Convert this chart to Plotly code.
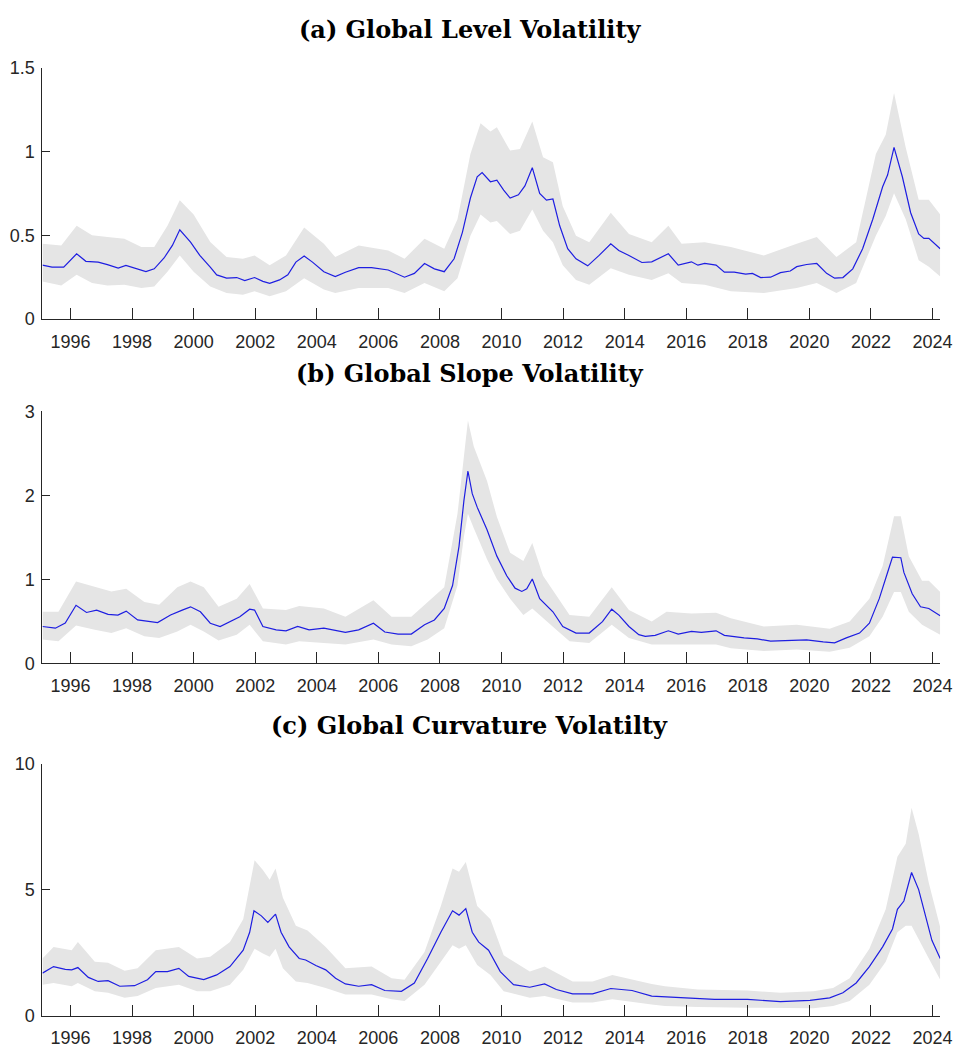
import plotly.graph_objects as go

# ---------------- Panel (a): Global Level Volatility ----------------
A_DATES = [1995.09, 1995.4, 1995.78, 1996.2, 1996.5, 1996.9, 1997.2, 1997.55, 1997.8, 1998.08,
           1998.45, 1998.72, 1999.04, 1999.31, 1999.55, 1999.9, 2000.2, 2000.54, 2000.75, 2001.07,
           2001.4, 2001.66, 2001.98, 2002.25, 2002.47, 2002.79, 2003.06, 2003.32, 2003.59, 2003.86,
           2004.23, 2004.6, 2004.93, 2005.36, 2005.78, 2006.32, 2006.85, 2007.17, 2007.5, 2007.82,
           2008.14, 2008.46, 2008.73, 2008.99, 2009.21, 2009.37, 2009.64, 2009.85, 2010.07, 2010.28,
           2010.55, 2010.76, 2011.0, 2011.24, 2011.46, 2011.67, 2011.89, 2012.15, 2012.42, 2012.8,
           2013.17, 2013.55, 2013.81, 2014.14, 2014.56, 2014.88, 2015.1, 2015.42, 2015.74, 2016.17,
           2016.38, 2016.6, 2016.97, 2017.24, 2017.56, 2017.93, 2018.15, 2018.42, 2018.74, 2019.06,
           2019.38, 2019.59, 2019.91, 2020.24, 2020.56, 2020.82, 2021.09, 2021.41, 2021.73, 2022.06,
           2022.38, 2022.54, 2022.75, 2023.02, 2023.29, 2023.55, 2023.72, 2023.88, 2024.25]
A_MED = [0.322, 0.31, 0.31, 0.39, 0.345, 0.34, 0.325, 0.305, 0.32, 0.305,
         0.283, 0.30, 0.365, 0.44, 0.533, 0.46, 0.38, 0.31, 0.264, 0.245,
         0.248, 0.23, 0.248, 0.225, 0.213, 0.234, 0.264, 0.34, 0.377, 0.34,
         0.283, 0.254, 0.28, 0.307, 0.307, 0.293, 0.25, 0.273, 0.332, 0.30,
         0.283, 0.36, 0.518, 0.723, 0.85, 0.875, 0.82, 0.83, 0.77, 0.723,
         0.742, 0.795, 0.904, 0.75, 0.71, 0.717, 0.557, 0.42, 0.36, 0.318,
         0.38, 0.45, 0.41, 0.38, 0.338, 0.342, 0.36, 0.39, 0.322, 0.342,
         0.322, 0.332, 0.322, 0.28, 0.28, 0.268, 0.273, 0.248, 0.25, 0.277,
         0.287, 0.313, 0.326, 0.332, 0.273, 0.244, 0.248, 0.30, 0.42, 0.596,
         0.79, 0.86, 1.025, 0.85, 0.635, 0.508, 0.482, 0.482, 0.42]
BA_DATES = [1995.09, 1995.7, 1996.2, 1996.7, 1997.2, 1997.75, 1998.3, 1998.72, 1999.15, 1999.55,
            2000.0, 2000.54, 2001.07, 2001.6, 2001.98, 2002.47, 2003.0, 2003.59, 2004.23, 2004.6,
            2005.36, 2006.32, 2006.85, 2007.5, 2008.14, 2008.57, 2008.99, 2009.32, 2009.64, 2009.85,
            2010.28, 2010.6, 2011.0, 2011.35, 2011.67, 2011.99, 2012.42, 2012.85, 2013.55, 2014.14,
            2014.88, 2015.42, 2015.85, 2016.6, 2017.45, 2018.52, 2019.59, 2020.24, 2020.88, 2021.52,
            2022.16, 2022.48, 2022.75, 2023.13, 2023.55, 2023.88, 2024.25]
BA_HI = [0.45, 0.44, 0.557, 0.50, 0.49, 0.48, 0.43, 0.43, 0.557, 0.71,
         0.625, 0.46, 0.37, 0.36, 0.38, 0.322, 0.38, 0.547, 0.45, 0.37,
         0.44, 0.41, 0.36, 0.48, 0.42, 0.596, 0.986, 1.17, 1.12, 1.146,
         1.006, 1.016, 1.18, 0.967, 0.937, 0.674, 0.498, 0.459, 0.635, 0.508,
         0.459, 0.557, 0.45, 0.459, 0.43, 0.38, 0.45, 0.49, 0.37, 0.459,
         0.986, 1.10, 1.35, 1.025, 0.713, 0.713, 0.625]
BA_LO = [0.225, 0.20, 0.264, 0.215, 0.20, 0.205, 0.186, 0.195, 0.283, 0.38,
         0.283, 0.195, 0.156, 0.146, 0.166, 0.137, 0.166, 0.244, 0.176, 0.156,
         0.186, 0.186, 0.156, 0.215, 0.166, 0.244, 0.498, 0.625, 0.576, 0.586,
         0.508, 0.527, 0.654, 0.527, 0.459, 0.322, 0.234, 0.205, 0.303, 0.264,
         0.234, 0.273, 0.215, 0.205, 0.166, 0.156, 0.186, 0.215, 0.156, 0.215,
         0.498, 0.615, 0.752, 0.596, 0.352, 0.313, 0.254]

# ---------------- Panel (b): Global Slope Volatility ----------------
B_DATES = [1995.09, 1995.51, 1995.83, 1996.18, 1996.52, 1996.85, 1997.22, 1997.54, 1997.81, 1998.18,
           1998.83, 1999.25, 1999.63, 1999.9, 2000.22, 2000.54, 2000.86, 2001.18, 2001.5, 2001.82,
           2001.98, 2002.25, 2002.68, 2003.0, 2003.38, 2003.75, 2004.23, 2004.93, 2005.36, 2005.84,
           2006.21, 2006.64, 2007.07, 2007.5, 2007.82, 2008.14, 2008.41, 2008.62, 2008.78, 2008.91,
           2009.05, 2009.21, 2009.53, 2009.85, 2010.17, 2010.44, 2010.66, 2010.82, 2011.0, 2011.24,
           2011.67, 2011.99, 2012.42, 2012.85, 2013.28, 2013.58, 2013.81, 2014.14, 2014.46, 2014.67,
           2014.99, 2015.42, 2015.74, 2016.17, 2016.49, 2016.97, 2017.24, 2017.88, 2018.31, 2018.74,
           2019.38, 2019.91, 2020.45, 2020.82, 2021.2, 2021.63, 2021.95, 2022.27, 2022.54, 2022.7,
           2022.97, 2023.07, 2023.34, 2023.61, 2023.88, 2024.25]
B_MED = [0.44, 0.42, 0.48, 0.693, 0.607, 0.635, 0.584, 0.576, 0.623, 0.518,
         0.487, 0.576, 0.635, 0.674, 0.615, 0.479, 0.44, 0.498, 0.557, 0.646,
         0.635, 0.44, 0.40, 0.389, 0.44, 0.40, 0.42, 0.37, 0.40, 0.479,
         0.374, 0.35, 0.35, 0.46, 0.518, 0.654, 0.927, 1.394, 1.94, 2.29,
         2.02, 1.86, 1.59, 1.277, 1.044, 0.896, 0.857, 0.888, 1.005, 0.771,
         0.615, 0.44, 0.362, 0.362, 0.498, 0.646, 0.576, 0.44, 0.343, 0.323,
         0.335, 0.389, 0.35, 0.382, 0.37, 0.389, 0.335, 0.304, 0.292, 0.265,
         0.276, 0.28, 0.257, 0.245, 0.304, 0.362, 0.479, 0.771, 1.083, 1.266,
         1.258, 1.083, 0.829, 0.674, 0.654, 0.569]
BB_DATES = [1995.09, 1995.61, 1996.18, 1996.79, 1997.33, 1997.81, 1998.4, 1998.88, 1999.47, 1999.9,
            2000.33, 2000.81, 2001.4, 2001.82, 2002.25, 2003.0, 2003.43, 2004.23, 2004.93, 2005.84,
            2006.43, 2007.07, 2007.6, 2008.14, 2008.57, 2008.78, 2008.91, 2009.1, 2009.53, 2009.85,
            2010.28, 2010.71, 2011.0, 2011.35, 2011.78, 2012.21, 2012.85, 2013.58, 2014.14, 2014.88,
            2015.36, 2016.17, 2016.97, 2017.45, 2018.52, 2019.59, 2020.66, 2021.31, 2021.95, 2022.38,
            2022.75, 2022.97, 2023.23, 2023.66, 2023.88, 2024.25]
BB_HI = [0.615, 0.615, 0.974, 0.907, 0.857, 0.888, 0.732, 0.70, 0.907, 0.974,
         0.907, 0.674, 0.771, 0.946, 0.654, 0.635, 0.685, 0.654, 0.557, 0.752,
         0.557, 0.557, 0.732, 0.907, 1.78, 2.45, 2.89, 2.58, 2.17, 1.745,
         1.316, 1.219, 1.433, 1.044, 0.81, 0.576, 0.557, 0.907, 0.635, 0.498,
         0.615, 0.596, 0.604, 0.537, 0.44, 0.46, 0.413, 0.498, 0.771, 1.16,
         1.752, 1.752, 1.277, 0.985, 0.985, 0.849]
BB_LO = [0.284, 0.265, 0.452, 0.40, 0.362, 0.42, 0.323, 0.304, 0.38, 0.46,
         0.38, 0.273, 0.343, 0.46, 0.265, 0.226, 0.265, 0.245, 0.226, 0.284,
         0.226, 0.206, 0.284, 0.42, 0.927, 1.51, 1.78, 1.61, 1.24, 1.005,
         0.771, 0.576, 0.654, 0.537, 0.40, 0.265, 0.245, 0.46, 0.304, 0.226,
         0.234, 0.226, 0.226, 0.18, 0.148, 0.167, 0.14, 0.187, 0.323, 0.557,
         0.849, 0.849, 0.615, 0.46, 0.42, 0.343]

# ---------------- Panel (c): Global Curvature Volatility ----------------
C_DATES = [1995.09, 1995.45, 1995.83, 1996.04, 1996.24, 1996.58, 1996.9, 1997.22, 1997.6, 1998.08,
           1998.5, 1998.77, 1999.15, 1999.52, 1999.84, 2000.33, 2000.75, 2001.18, 2001.61, 2001.82,
           2001.96, 2002.2, 2002.41, 2002.66, 2002.84, 2003.1, 2003.43, 2003.64, 2003.97, 2004.29,
           2004.61, 2004.93, 2005.36, 2005.78, 2006.21, 2006.75, 2007.17, 2007.6, 2008.03, 2008.41,
           2008.62, 2008.84, 2009.05, 2009.26, 2009.58, 2009.96, 2010.39, 2010.92, 2011.4, 2011.78,
           2012.31, 2012.96, 2013.55, 2014.24, 2014.88, 2015.31, 2015.95, 2016.92, 2017.99, 2019.06,
           2020.02, 2020.66, 2021.09, 2021.52, 2021.95, 2022.38, 2022.7, 2022.86, 2023.07, 2023.32,
           2023.55, 2023.77, 2023.98, 2024.25]
C_MED = [1.69, 1.95, 1.84, 1.82, 1.91, 1.52, 1.36, 1.39, 1.17, 1.19,
         1.43, 1.75, 1.75, 1.88, 1.56, 1.43, 1.62, 1.95, 2.60, 3.31,
         4.16, 3.96, 3.70, 4.03, 3.31, 2.73, 2.27, 2.21, 1.99, 1.82,
         1.49, 1.26, 1.17, 1.23, 1.0, 0.97, 1.30, 2.27, 3.31, 4.16,
         3.99, 4.25, 3.31, 2.92, 2.60, 1.75, 1.23, 1.13, 1.26, 1.04,
         0.87, 0.87, 1.08, 1.0, 0.78, 0.75, 0.69, 0.65, 0.65, 0.56,
         0.61, 0.71, 0.91, 1.30, 1.95, 2.73, 3.44, 4.22, 4.55, 5.68,
         5.0, 3.96, 2.99, 2.27]
BC_DATES = [1995.09, 1995.45, 1996.04, 1996.24, 1996.79, 1997.22, 1997.76, 1998.18, 1998.77, 1999.52,
            2000.11, 2000.54, 2001.18, 2001.61, 2001.98, 2002.25, 2002.47, 2002.66, 2002.9, 2003.32,
            2003.7, 2004.29, 2004.93, 2005.78, 2006.43, 2006.85, 2007.5, 2008.03, 2008.41, 2008.62,
            2008.84, 2009.21, 2009.64, 2010.07, 2010.92, 2011.4, 2012.31, 2012.96, 2013.6, 2014.88,
            2015.31, 2016.38, 2017.99, 2019.06, 2020.13, 2020.77, 2021.31, 2021.95, 2022.48, 2022.86,
            2023.13, 2023.32, 2023.55, 2023.88, 2024.25]
BC_HI = [2.27, 2.73, 2.60, 2.92, 2.14, 2.10, 1.78, 1.88, 2.60, 2.73,
         2.27, 2.34, 2.92, 3.83, 6.17, 5.78, 5.39, 5.84, 4.68, 3.57,
         3.38, 2.73, 1.88, 1.95, 1.49, 1.43, 2.53, 4.35, 5.84, 5.71,
         6.10, 4.35, 3.83, 2.40, 1.75, 1.95, 1.36, 1.36, 1.62, 1.26,
         1.17, 1.04, 1.0, 0.91, 0.97, 1.10, 1.49, 2.66, 4.22, 6.30,
         6.82, 8.25, 7.21, 5.26, 3.51]
BC_LO = [1.23, 1.30, 1.17, 1.30, 0.97, 0.91, 0.71, 0.78, 1.10, 1.23,
         0.97, 0.97, 1.23, 1.82, 2.66, 2.47, 2.34, 2.66, 1.88, 1.36,
         1.30, 1.10, 0.84, 0.84, 0.65, 0.58, 1.23, 2.14, 2.79, 2.66,
         2.79, 2.01, 1.62, 0.97, 0.71, 0.78, 0.52, 0.52, 0.65, 0.45,
         0.39, 0.35, 0.32, 0.30, 0.30, 0.39, 0.58, 1.23, 2.14, 3.31,
         3.57, 3.57, 3.05, 2.27, 1.43]

TITLES = ["(a) Global Level Volatility", "(b) Global Slope Volatility",
          "(c) Global Curvature Volatilty"]
X_TICKS = list(range(1996, 2025, 2))
Y_TICKS = [[0, 0.5, 1, 1.5], [0, 1, 2, 3], [0, 5, 10]]
Y_TICK_TEXT = [["0", "0.5", "1", "1.5"], ["0", "1", "2", "3"], ["0", "5", "10"]]
Y_MAX = [1.5, 3, 10]

W, H = 969, 1064
PANELS = [
    (A_DATES, A_MED, BA_DATES, BA_LO, BA_HI),
    (B_DATES, B_MED, BB_DATES, BB_LO, BB_HI),
    (C_DATES, C_MED, BC_DATES, BC_LO, BC_HI),
]
# plot area pixel boxes (top, bottom)
BOXES = [(59, 315), (409, 666), (768, 1025)]
X_LEFT, X_RIGHT = 43, 952
TITLE_Y = [20, 370, 729]

BAND = "rgb(229,229,229)"
LINE = "rgb(30,30,225)"
AXC = "#262626"
TICKFONT = dict(family="Liberation Sans, Arial, sans-serif", size=18, color=AXC)

fig = go.Figure()
for i, (d, m, bd, lo, hi) in enumerate(PANELS):
    n = min(len(bd), len(lo), len(hi))
    xs = list(bd[:n]) + list(bd[:n])[::-1]
    ys = list(hi[:n]) + list(lo[:n])[::-1]
    ax = "" if i == 0 else str(i + 1)
    fig.add_trace(go.Scatter(x=xs, y=ys, fill="toself", fillcolor=BAND,
                             line=dict(width=0, color=BAND), mode="lines",
                             hoverinfo="skip", showlegend=False,
                             xaxis="x" + ax, yaxis="y" + ax))
    k = min(len(d), len(m))
    fig.add_trace(go.Scatter(x=d[:k], y=m[:k], mode="lines",
                             line=dict(color=LINE, width=1.2),
                             showlegend=False, xaxis="x" + ax, yaxis="y" + ax))

layout = dict(width=W, height=H, margin=dict(l=0, r=0, t=0, b=0),
              paper_bgcolor="white", plot_bgcolor="white", showlegend=False)
for i in range(3):
    top, bot = BOXES[i]
    ax = "" if i == 0 else str(i + 1)
    layout["xaxis" + ax] = dict(
        domain=[X_LEFT / W, X_RIGHT / W], range=[1995.09, 2024.25],
        anchor="y" + ax, tickvals=X_TICKS, ticktext=[str(t) for t in X_TICKS],
        ticks="inside", ticklen=11, tickwidth=1, tickcolor=AXC,
        showline=True, linecolor=AXC, linewidth=1, showgrid=False,
        zeroline=False, tickfont=TICKFONT, ticklabelstandoff=6)
    layout["yaxis" + ax] = dict(
        domain=[1 - bot / H, 1 - top / H], range=[0, Y_MAX[i]],
        anchor="x" + ax, tickvals=Y_TICKS[i], ticktext=Y_TICK_TEXT[i],
        ticks="inside", ticklen=8, tickwidth=1, tickcolor=AXC,
        showline=True, linecolor=AXC, linewidth=1, showgrid=False,
        zeroline=False, tickfont=TICKFONT, ticklabelstandoff=3)
fig.update_layout(**layout)

for i, t in enumerate(TITLES):
    fig.add_annotation(text="<b>" + t + "</b>", x=0.491, y=1 - TITLE_Y[i] / H,
                       xref="paper", yref="paper", xanchor="center", yanchor="middle",
                       showarrow=False,
                       font=dict(family="DejaVu Serif", size=24, color="black"))

fig.write_html("out.html")
